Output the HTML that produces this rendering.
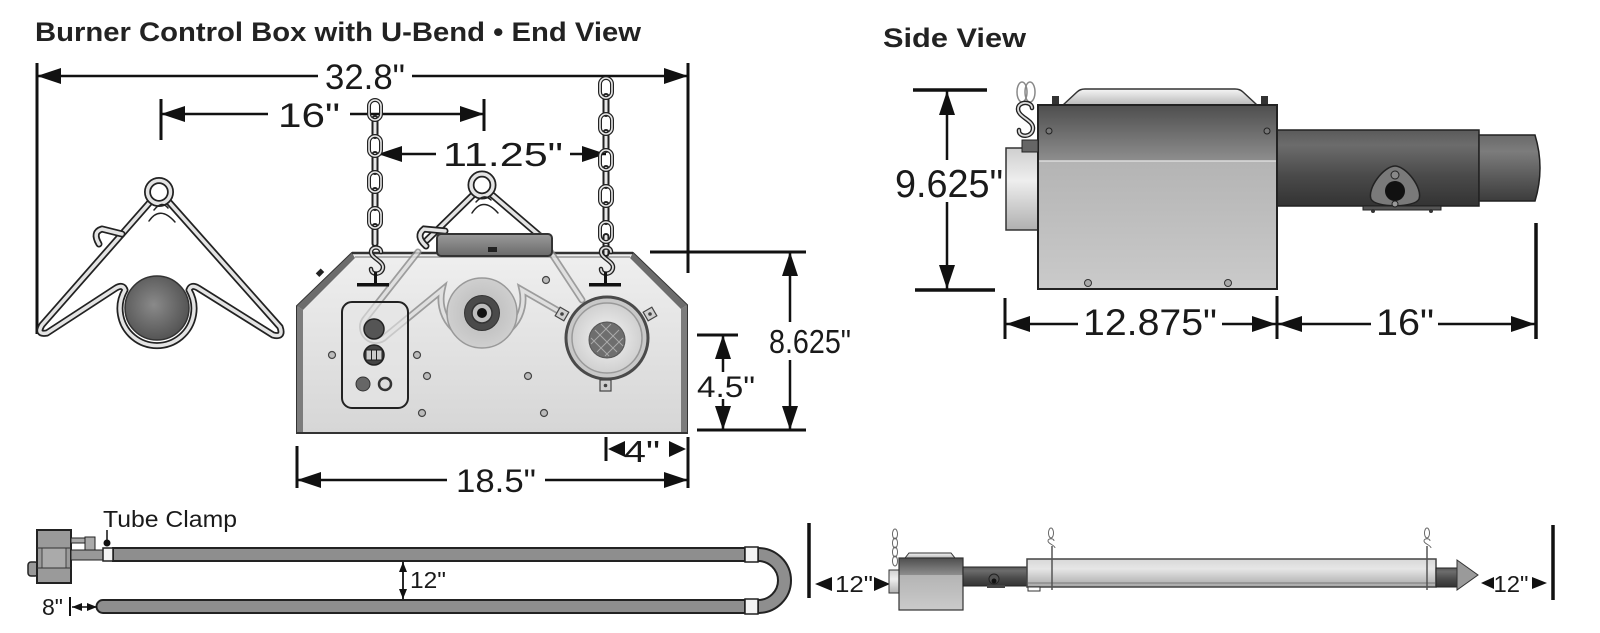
<!DOCTYPE html>
<html><head><meta charset="utf-8"><style>html,body{margin:0;padding:0;background:#fff}svg{display:block}</style></head>
<body>
<svg width="1600" height="633" viewBox="0 0 1600 633" xmlns="http://www.w3.org/2000/svg" xmlns:xlink="http://www.w3.org/1999/xlink" font-family="Liberation Sans, sans-serif">
<defs>
<marker id="A" viewBox="0 0 24 16" refX="24" refY="8" markerWidth="24" markerHeight="16" markerUnits="userSpaceOnUse" orient="auto-start-reverse"><path d="M0,0L24,8L0,16z" fill="#111"/></marker>
<marker id="S" viewBox="0 0 10 8" refX="10" refY="4" markerWidth="10" markerHeight="8" markerUnits="userSpaceOnUse" orient="auto-start-reverse"><path d="M0,0L10,4L0,8z" fill="#111"/></marker>
<linearGradient id="face" x1="0" y1="0" x2="0" y2="1"><stop offset="0" stop-color="#efefef"/><stop offset="1" stop-color="#d6d6d6"/></linearGradient>
<linearGradient id="handle" x1="0" y1="0" x2="0" y2="1"><stop offset="0" stop-color="#9a9a9a"/><stop offset="1" stop-color="#6a6a6a"/></linearGradient>
<radialGradient id="ball" cx="0.45" cy="0.45" r="0.6"><stop offset="0" stop-color="#8a8a8a"/><stop offset="1" stop-color="#505050"/></radialGradient>
<radialGradient id="disc" cx="0.5" cy="0.5" r="0.5"><stop offset="0" stop-color="#b8b8b8"/><stop offset="1" stop-color="#cfcfcf"/></radialGradient>
<radialGradient id="disc2" cx="0.5" cy="0.5" r="0.5"><stop offset="0" stop-color="#f4f4f4"/><stop offset="1" stop-color="#d0d0d0"/></radialGradient>
<linearGradient id="upper" x1="0" y1="0" x2="0" y2="1"><stop offset="0" stop-color="#4e4e4e"/><stop offset="1" stop-color="#8e8e8e"/></linearGradient>
<linearGradient id="lower" x1="0" y1="0" x2="0" y2="1"><stop offset="0" stop-color="#b4b4b4"/><stop offset="1" stop-color="#cacaca"/></linearGradient>
<linearGradient id="lid" x1="0" y1="0" x2="0" y2="1"><stop offset="0" stop-color="#f6f6f6"/><stop offset="1" stop-color="#b8b8b8"/></linearGradient>
<linearGradient id="inlet" x1="0" y1="0" x2="0" y2="1"><stop offset="0" stop-color="#cfcfcf"/><stop offset="0.4" stop-color="#eeeeee"/><stop offset="1" stop-color="#b0b0b0"/></linearGradient>
<linearGradient id="tube" x1="0" y1="0" x2="0" y2="1"><stop offset="0" stop-color="#5a5a5a"/><stop offset="0.2" stop-color="#6c6c6c"/><stop offset="0.6" stop-color="#4a4a4a"/><stop offset="1" stop-color="#333"/></linearGradient>
<linearGradient id="cap" x1="0" y1="0" x2="0" y2="1"><stop offset="0" stop-color="#6a6a6a"/><stop offset="0.25" stop-color="#7c7c7c"/><stop offset="0.7" stop-color="#555"/><stop offset="1" stop-color="#3c3c3c"/></linearGradient>
<linearGradient id="emit" x1="0" y1="0" x2="0" y2="1"><stop offset="0" stop-color="#d8d8d8"/><stop offset="0.35" stop-color="#e6e6e6"/><stop offset="1" stop-color="#a8a8a8"/></linearGradient>
<g id="lf"><rect x="-6" y="0" width="12" height="20" rx="6" fill="none" stroke="#222" stroke-width="4"/><rect x="-6" y="0" width="12" height="20" rx="6" fill="none" stroke="#e8e8e8" stroke-width="1.6"/></g>
<g id="le"><rect x="-2.5" y="0" width="5" height="22" rx="2.5" fill="#e8e8e8" stroke="#222" stroke-width="2"/></g>
</defs>

<!-- Titles -->
<text x="35" y="41" font-size="27" font-weight="bold" fill="#222" textLength="606" lengthAdjust="spacingAndGlyphs">Burner Control Box with U-Bend • End View</text>
<text x="883" y="47" font-size="27" font-weight="bold" fill="#222" textLength="143" lengthAdjust="spacingAndGlyphs">Side View</text>

<!-- ===== End view dims ===== -->
<g stroke="#111" fill="none">
<line x1="37" y1="63" x2="37" y2="334" stroke-width="3"/>
<line x1="688" y1="63" x2="688" y2="273" stroke-width="3"/>
<line x1="37" y1="76" x2="318" y2="76" stroke-width="2.5" marker-start="url(#A)"/>
<line x1="412" y1="76" x2="688" y2="76" stroke-width="2.5" marker-end="url(#A)"/>
<line x1="161" y1="99" x2="161" y2="140" stroke-width="3"/>
<line x1="484" y1="99" x2="484" y2="131" stroke-width="3"/>
<line x1="161" y1="114" x2="268" y2="114" stroke-width="2.5" marker-start="url(#A)"/>
<line x1="350" y1="114" x2="484" y2="114" stroke-width="2.5" marker-end="url(#A)"/>
<line x1="378" y1="154" x2="436" y2="154" stroke-width="2.5" marker-start="url(#A)"/>
<line x1="570" y1="154" x2="606" y2="154" stroke-width="2.5" marker-end="url(#A)"/>
<!-- 8.625 -->
<line x1="650" y1="252" x2="806" y2="252" stroke-width="3"/>
<line x1="697" y1="430" x2="806" y2="430" stroke-width="3"/>
<line x1="790" y1="322" x2="790" y2="252" stroke-width="2.5" marker-end="url(#A)"/>
<line x1="790" y1="360" x2="790" y2="430" stroke-width="2.5" marker-end="url(#A)"/>
<!-- 4.5 -->
<line x1="697" y1="335" x2="738" y2="335" stroke-width="3"/>
<line x1="723" y1="372" x2="723" y2="335" stroke-width="2.5" marker-end="url(#A)"/>
<line x1="723" y1="399" x2="723" y2="430" stroke-width="2.5" marker-end="url(#A)"/>
<!-- 4 -->
<line x1="606" y1="437" x2="606" y2="461" stroke-width="3"/>
<line x1="688" y1="437" x2="688" y2="488" stroke-width="3"/>
<!-- 18.5 -->
<line x1="297" y1="446" x2="297" y2="488" stroke-width="3"/>
<line x1="297" y1="480" x2="447" y2="480" stroke-width="2.5" marker-start="url(#A)"/>
<line x1="545" y1="480" x2="688" y2="480" stroke-width="2.5" marker-end="url(#A)"/>
</g>
<polygon points="608,449 625,441 625,457" fill="#111"/>
<polygon points="686,449 669,441 669,457" fill="#111"/>

<g fill="#1a1a1a" font-size="35">
<text x="365" y="89" text-anchor="middle" textLength="80" lengthAdjust="spacingAndGlyphs">32.8"</text>
<text x="309" y="127" text-anchor="middle" font-size="34" textLength="62" lengthAdjust="spacingAndGlyphs">16"</text>
<text x="503" y="166" text-anchor="middle" font-size="33" textLength="120" lengthAdjust="spacingAndGlyphs">11.25"</text>
<text x="810" y="353" text-anchor="middle" font-size="33" textLength="82" lengthAdjust="spacingAndGlyphs">8.625"</text>
<text x="726" y="397" text-anchor="middle" font-size="30" textLength="58" lengthAdjust="spacingAndGlyphs">4.5"</text>
<text x="642" y="462" text-anchor="middle" font-size="31" textLength="36" lengthAdjust="spacingAndGlyphs">4"</text>
<text x="496" y="492" text-anchor="middle" font-size="32" textLength="80" lengthAdjust="spacingAndGlyphs">18.5"</text>
</g>

<!-- ===== Left U hanger ===== -->
<g fill="none" stroke-linejoin="round" stroke-linecap="round">
<circle cx="157" cy="308" r="32" fill="url(#ball)" stroke="#333" stroke-width="1.5"/>
<path d="M151,201 L42,325 Q36,335 47,333 L116,288 Q123,284 125,290 A37,37 0 1,0 189,290 Q191,284 198,288 L273,335 Q284,338 280,327 L168,201" stroke="#222" stroke-width="7"/>
<path d="M151,201 L42,325 Q36,335 47,333 L116,288 Q123,284 125,290 A37,37 0 1,0 189,290 Q191,284 198,288 L273,335 Q284,338 280,327 L168,201" stroke="#e4e4e4" stroke-width="3.5"/>
<circle cx="159" cy="192" r="11.5" stroke="#222" stroke-width="7"/>
<circle cx="159" cy="192" r="11.5" stroke="#e4e4e4" stroke-width="3.5"/>
<path d="M149,221 Q160,205 175,222 M154,210 Q162,200 168,208" stroke="#222" stroke-width="1.5"/>
<path d="M99,244 Q92,232 102,229 L122,234" stroke="#222" stroke-width="7"/>
<path d="M99,244 Q92,232 102,229 L122,234" stroke="#e4e4e4" stroke-width="3.5"/>
</g>

<!-- ===== Control box hanger (behind box) ===== -->
<g fill="none" stroke-linecap="round">
<path d="M474,194 L427,240 M491,194 L540,236" stroke="#222" stroke-width="7"/>
<path d="M474,194 L427,240 M491,194 L540,236" stroke="#e4e4e4" stroke-width="3.5"/>
<circle cx="482" cy="185" r="11" stroke="#222" stroke-width="7"/>
<circle cx="482" cy="185" r="11" stroke="#e4e4e4" stroke-width="3.5"/>
<path d="M472,213 Q483,196 498,213 M476,202 Q484,193 491,200" stroke="#222" stroke-width="1.5"/>
<path d="M426,246 Q415,236 424,229 L445,231" stroke="#222" stroke-width="7"/>
<path d="M426,246 Q415,236 424,229 L445,231" stroke="#e4e4e4" stroke-width="3.5"/>
</g>

<!-- ===== Control box ===== -->
<polygon points="297,433 297,306 352,253 633,253 687,305 687,433" fill="url(#face)" stroke="#333" stroke-width="2"/>
<polygon points="297,306 352,253 355,258 303,310" fill="#6c6c6c"/>
<polygon points="633,253 687,305 681,309 630,258" fill="#6c6c6c"/>
<polygon points="297,306 303,310 303,433 297,433" fill="#7c7c7c"/>
<polygon points="681,309 687,305 687,433 681,433" fill="#7c7c7c"/>
<line x1="352" y1="253" x2="633" y2="253" stroke="#333" stroke-width="2.5"/>
<line x1="355" y1="257" x2="630" y2="257" stroke="#999" stroke-width="1.5"/>
<line x1="297" y1="433" x2="687" y2="433" stroke="#333" stroke-width="2"/>
<rect x="316" y="270" width="7" height="5" fill="#222" transform="rotate(-45 320 272)"/>

<!-- ghost wires inside box -->
<g fill="none" stroke-linecap="round" opacity="0.8">
<path d="M418,252 L366,318 A13,13 0 0,0 386,336 L442,290 A41,41 0 1,0 522,290 L562,313 M540,236 L582,300" stroke="#8a8a8a" stroke-width="7"/>
<path d="M418,252 L366,318 A13,13 0 0,0 386,336 L442,290 A41,41 0 1,0 522,290 L562,313 M540,236 L582,300" stroke="#dedede" stroke-width="3.5"/>
</g>

<!-- handle -->
<rect x="437" y="234" width="115" height="22" rx="4" fill="url(#handle)" stroke="#333" stroke-width="2"/>
<rect x="488" y="247" width="9" height="5" fill="#222"/>

<!-- panel -->
<rect x="342" y="302" width="66" height="106" rx="10" fill="#e6e6e6" fill-opacity="0.6" stroke="#222" stroke-width="2"/>
<circle cx="374" cy="329" r="10" fill="#555" stroke="#222" stroke-width="1.5"/>
<circle cx="374" cy="355" r="10" fill="#444" stroke="#222" stroke-width="1.5"/>
<rect x="366" y="350" width="16" height="10" fill="#ccc" stroke="#222" stroke-width="1"/>
<line x1="371.5" y1="350" x2="371.5" y2="360" stroke="#222"/>
<line x1="376.5" y1="350" x2="376.5" y2="360" stroke="#222"/>
<circle cx="363" cy="384" r="7" fill="#666" stroke="#333" stroke-width="1"/>
<circle cx="385" cy="384" r="6" fill="#ddd" stroke="#333" stroke-width="2.5"/>

<!-- center burner -->
<circle cx="482" cy="313" r="35" fill="url(#disc)" stroke="#999" stroke-width="1.5"/>
<circle cx="482" cy="313" r="17.5" fill="#4a4a4a" stroke="#333"/>
<circle cx="482" cy="313" r="10" fill="#bdbdbd" stroke="#333" stroke-width="1.5"/>
<circle cx="482" cy="313" r="5" fill="#111"/>

<!-- right burner -->
<circle cx="607" cy="338" r="41" fill="#c8c8c8" stroke="#4a4a4a" stroke-width="3"/>
<circle cx="607" cy="338" r="35" fill="url(#disc2)" stroke="#999" stroke-width="1.5"/>
<circle cx="607" cy="340" r="18" fill="#6e6e6e" stroke="#555"/>
<g stroke="#aaa" stroke-width="1">
<line x1="595" y1="330" x2="617" y2="352"/><line x1="601" y1="324" x2="623" y2="346"/><line x1="591" y1="338" x2="609" y2="356"/>
<line x1="597" y1="352" x2="619" y2="330"/><line x1="591" y1="344" x2="611" y2="324"/><line x1="605" y1="356" x2="623" y2="338"/>
</g>
<g fill="#d0d0d0" stroke="#444" stroke-width="1.2">
<rect x="557" y="309" width="10" height="10" transform="rotate(30 562 314)"/>
<rect x="645" y="309" width="10" height="10" transform="rotate(-30 650 314)"/>
<rect x="600" y="380" width="11" height="11"/>
</g>
<g fill="#444"><circle cx="562" cy="314" r="1.8"/><circle cx="650" cy="314" r="1.8"/><circle cx="605.5" cy="385.5" r="1.8"/></g>

<!-- screws -->
<g fill="#bbb" stroke="#444" stroke-width="1.2">
<circle cx="332" cy="355" r="3.5"/><circle cx="417" cy="355" r="3.5"/><circle cx="427" cy="376" r="3.5"/>
<circle cx="422" cy="413" r="3.5"/><circle cx="546" cy="280" r="3.5"/><circle cx="528" cy="376" r="3.5"/><circle cx="544" cy="413" r="3.5"/>
</g>

<!-- chains -->
<use xlink:href="#le" x="375" y="116"/><use xlink:href="#le" x="375" y="152"/><use xlink:href="#le" x="375" y="188"/><use xlink:href="#le" x="375" y="224"/>
<use xlink:href="#lf" x="375" y="100"/><use xlink:href="#lf" x="375" y="136"/><use xlink:href="#lf" x="375" y="172"/><use xlink:href="#lf" x="375" y="208"/>
<use xlink:href="#le" x="606" y="94"/><use xlink:href="#le" x="606" y="130"/><use xlink:href="#le" x="606" y="166"/><use xlink:href="#le" x="606" y="202"/><use xlink:href="#le" x="606" y="234"/>
<use xlink:href="#lf" x="606" y="78"/><use xlink:href="#lf" x="606" y="114"/><use xlink:href="#lf" x="606" y="150"/><use xlink:href="#lf" x="606" y="186"/><use xlink:href="#lf" x="606" y="222"/>
<g fill="none" stroke-linecap="round">
<path d="M381,252 C381,246 371,246 371,252 C371,258 383,261 383,267 C383,275 371,276 371,269" stroke="#222" stroke-width="4.5"/>
<path d="M381,252 C381,246 371,246 371,252 C371,258 383,261 383,267 C383,275 371,276 371,269" stroke="#ddd" stroke-width="1.8"/>
<path d="M611,252 C611,246 601,246 601,252 C601,258 613,261 613,267 C613,275 601,276 601,269" stroke="#222" stroke-width="4.5"/>
<path d="M611,252 C611,246 601,246 601,252 C601,258 613,261 613,267 C613,275 601,276 601,269" stroke="#ddd" stroke-width="1.8"/>
</g>
<rect x="374" y="272" width="3" height="12" fill="#111"/>
<rect x="357" y="283" width="32" height="3.5" fill="#111"/>
<rect x="604" y="272" width="3" height="12" fill="#111"/>
<rect x="589" y="283" width="32" height="3.5" fill="#111"/>

<!-- ===== Side view ===== -->
<g stroke="#111" fill="none">
<line x1="913" y1="90" x2="987" y2="90" stroke-width="3.5"/>
<line x1="915" y1="290" x2="995" y2="290" stroke-width="3.5"/>
<line x1="947" y1="160" x2="947" y2="91" stroke-width="2.5" marker-end="url(#A)"/>
<line x1="947" y1="202" x2="947" y2="289" stroke-width="2.5" marker-end="url(#A)"/>
<line x1="1005" y1="298" x2="1005" y2="339" stroke-width="3"/>
<line x1="1277" y1="296" x2="1277" y2="339" stroke-width="3"/>
<line x1="1536" y1="223" x2="1536" y2="339" stroke-width="3.5"/>
<line x1="1006" y1="324" x2="1078" y2="324" stroke-width="2.5" marker-start="url(#A)"/>
<line x1="1222" y1="324" x2="1276" y2="324" stroke-width="2.5" marker-end="url(#A)"/>
<line x1="1278" y1="324" x2="1371" y2="324" stroke-width="2.5" marker-start="url(#A)"/>
<line x1="1438" y1="324" x2="1535" y2="324" stroke-width="2.5" marker-end="url(#A)"/>
</g>
<g fill="#1a1a1a">
<text x="949" y="197" text-anchor="middle" font-size="39" textLength="108" lengthAdjust="spacingAndGlyphs">9.625"</text>
<text x="1150" y="335" text-anchor="middle" font-size="37" textLength="134" lengthAdjust="spacingAndGlyphs">12.875"</text>
<text x="1405" y="335" text-anchor="middle" font-size="37" textLength="58" lengthAdjust="spacingAndGlyphs">16"</text>
</g>

<!-- tube -->
<rect x="1277" y="130" width="202" height="76" fill="url(#tube)" stroke="#222" stroke-width="1.5"/>
<path d="M1479,135 L1535,135 Q1545,168 1535,201 L1479,201 Z" fill="url(#cap)" stroke="#222" stroke-width="1.5"/>
<rect x="1363" y="206" width="78" height="4" fill="#555" stroke="#222" stroke-width="1"/>
<circle cx="1373" cy="211" r="2" fill="#333"/><circle cx="1431" cy="211" r="2" fill="#333"/>
<path d="M1395,166 C1406,166 1423,188 1419,199 C1415,208 1375,208 1371,199 C1367,188 1384,166 1395,166 Z" fill="#7a7a7a" stroke="#222" stroke-width="1.5"/>
<circle cx="1395" cy="191" r="10" fill="#111"/>
<circle cx="1395" cy="175" r="4" fill="#888" stroke="#222"/>
<circle cx="1395" cy="204" r="3" fill="#999" stroke="#222"/>
<!-- body -->
<path d="M1063,105 L1077,92 Q1080,89 1085,89 L1235,89 Q1240,89 1243,92 L1257,105 Z" fill="url(#lid)" stroke="#333" stroke-width="1.5"/>
<rect x="1052" y="96" width="7" height="9" fill="#333"/><rect x="1261" y="96" width="7" height="9" fill="#333"/>
<rect x="1006" y="148" width="32" height="82" fill="url(#inlet)" stroke="#333" stroke-width="1.5"/>
<rect x="1038" y="105" width="239" height="56" fill="url(#upper)"/>
<rect x="1038" y="161" width="239" height="128" fill="url(#lower)"/>
<line x1="1038" y1="161" x2="1277" y2="161" stroke="#dcdcdc" stroke-width="1.5"/>
<rect x="1038" y="105" width="239" height="184" fill="none" stroke="#222" stroke-width="2"/>
<g fill="#777" stroke="#222" stroke-width="1"><circle cx="1049" cy="131" r="3"/><circle cx="1267" cy="131" r="3"/></g>
<g fill="#aaa" stroke="#333" stroke-width="1"><circle cx="1088" cy="283" r="3.5"/><circle cx="1228" cy="283" r="3.5"/></g>
<!-- side chain -->
<g fill="none" stroke="#888" stroke-width="1.5"><ellipse cx="1022" cy="92" rx="5" ry="10"/><ellipse cx="1030" cy="92" rx="5" ry="10"/></g>
<path d="M1032,108 C1032,101 1018,101 1018,109 C1018,117 1033,120 1033,128 C1033,138 1018,138 1019,130" fill="none" stroke="#222" stroke-width="4.5" stroke-linecap="round"/>
<path d="M1032,108 C1032,101 1018,101 1018,109 C1018,117 1033,120 1033,128 C1033,138 1018,138 1019,130" fill="none" stroke="#ddd" stroke-width="1.8" stroke-linecap="round"/>
<rect x="1022" y="140" width="16" height="12" fill="#666" stroke="#222"/>

<!-- ===== Bottom left U-bend ===== -->
<text x="103" y="527" font-size="23" fill="#1a1a1a" textLength="134" lengthAdjust="spacingAndGlyphs">Tube Clamp</text>
<line x1="107" y1="530" x2="107" y2="541" stroke="#111" stroke-width="1.5"/>
<circle cx="107" cy="543" r="3.5" fill="#111"/>
<rect x="28" y="562" width="10" height="14" rx="3" fill="#999" stroke="#222" stroke-width="1.5"/>
<rect x="37" y="530" width="34" height="53" fill="#9a9a9a" stroke="#222" stroke-width="2"/>
<rect x="42" y="548" width="24" height="20" fill="#aaa" stroke="#444" stroke-width="1"/>
<line x1="37" y1="548" x2="71" y2="548" stroke="#333"/><line x1="37" y1="568" x2="71" y2="568" stroke="#333"/>
<rect x="71" y="538" width="14" height="5" fill="#aaa" stroke="#222"/>
<rect x="85" y="537" width="10" height="15" fill="#aaa" stroke="#222"/>
<rect x="71" y="550" width="32" height="10" fill="#999" stroke="#222"/>
<rect x="113" y="548" width="632" height="13" fill="#8e8e8e" stroke="#222" stroke-width="2"/>
<path d="M103,600 L745,600 L745,613 L103,613 A6.5,6.5 0 0,1 103,600 Z" fill="#8e8e8e" stroke="#222" stroke-width="2"/>
<path d="M758,548 A33,32.5 0 0,1 758,613 L758,600 A20,19.5 0 0,0 758,561 Z" fill="#8e8e8e" stroke="#222" stroke-width="2"/>
<rect x="103" y="548" width="10" height="13" fill="#f4f4f4" stroke="#222" stroke-width="1.5"/>
<rect x="745" y="547" width="13" height="15" fill="#f4f4f4" stroke="#222" stroke-width="1.5"/>
<rect x="745" y="599" width="13" height="15" fill="#f4f4f4" stroke="#222" stroke-width="1.5"/>
<line x1="403" y1="562" x2="403" y2="599" stroke="#111" stroke-width="1.8" marker-start="url(#S)" marker-end="url(#S)"/>
<text x="410" y="588" font-size="23" fill="#1a1a1a" textLength="36" lengthAdjust="spacingAndGlyphs">12"</text>
<text x="42" y="615" font-size="23" fill="#1a1a1a" textLength="21" lengthAdjust="spacingAndGlyphs">8"</text>
<line x1="70" y1="597" x2="70" y2="616" stroke="#111" stroke-width="2"/>
<line x1="72" y1="607" x2="97" y2="607" stroke="#111" stroke-width="1.5" marker-start="url(#S)" marker-end="url(#S)"/>
<line x1="809" y1="523" x2="809" y2="598" stroke="#111" stroke-width="3.5"/>

<!-- ===== Bottom right side run ===== -->
<polygon points="815,584 832,577 832,591" fill="#111"/>
<text x="854" y="592" text-anchor="middle" font-size="23" fill="#1a1a1a" textLength="38" lengthAdjust="spacingAndGlyphs">12"</text>
<polygon points="890,584 874,577 874,591" fill="#111"/>
<rect x="889" y="570" width="11" height="23" fill="url(#inlet)" stroke="#333" stroke-width="1"/>
<path d="M905,558 L909,553 L951,553 L955,558 Z" fill="url(#lid)" stroke="#333"/>
<rect x="899" y="558" width="64" height="17" fill="url(#upper)"/>
<rect x="899" y="575" width="64" height="35" fill="url(#lower)"/>
<rect x="899" y="558" width="64" height="52" fill="none" stroke="#333" stroke-width="1.2"/>
<g fill="none" stroke="#666" stroke-width="1"><ellipse cx="895" cy="534" rx="2.5" ry="5"/><ellipse cx="895" cy="543" rx="2.5" ry="5"/><ellipse cx="895" cy="552" rx="2.5" ry="5"/><ellipse cx="895" cy="561" rx="2.5" ry="5"/></g>
<rect x="963" y="567" width="64" height="19" fill="url(#tube)" stroke="#222"/>
<circle cx="994" cy="579" r="5" fill="#555" stroke="#222"/><circle cx="994" cy="581" r="2.5" fill="#111"/>
<rect x="987" y="585" width="18" height="3" fill="#444"/>
<rect x="1027" y="559" width="409" height="28" fill="url(#emit)" stroke="#444" stroke-width="1.5"/>
<line x1="1028" y1="583" x2="1435" y2="583" stroke="#777" stroke-width="1"/>
<rect x="1028" y="587" width="12" height="4" fill="#fff" stroke="#333" stroke-width="1"/>
<line x1="1052" y1="546" x2="1052" y2="590" stroke="#555" stroke-width="1.5"/>
<line x1="1427" y1="546" x2="1427" y2="590" stroke="#555" stroke-width="1.5"/>
<g fill="none" stroke="#666" stroke-width="1">
<ellipse cx="1051" cy="533" rx="2.5" ry="5"/><path d="M1054,541 C1054,538 1048,538 1048,541 C1048,544 1055,545 1055,548"/>
<ellipse cx="1427" cy="533" rx="2.5" ry="5"/><path d="M1430,541 C1430,538 1424,538 1424,541 C1424,544 1431,545 1431,548"/>
</g>
<rect x="1436" y="568" width="21" height="19" fill="url(#tube)" stroke="#222"/>
<polygon points="1457,560 1478,575 1457,590" fill="#9a9a9a" stroke="#333" stroke-width="1"/>
<polygon points="1481,583 1494,577 1494,589" fill="#111"/>
<text x="1511" y="592" text-anchor="middle" font-size="23" fill="#1a1a1a" textLength="35" lengthAdjust="spacingAndGlyphs">12"</text>
<polygon points="1547,583 1532,577 1532,589" fill="#111"/>
<line x1="1553" y1="525" x2="1553" y2="600" stroke="#111" stroke-width="3.5"/>
</svg>
</body></html>
